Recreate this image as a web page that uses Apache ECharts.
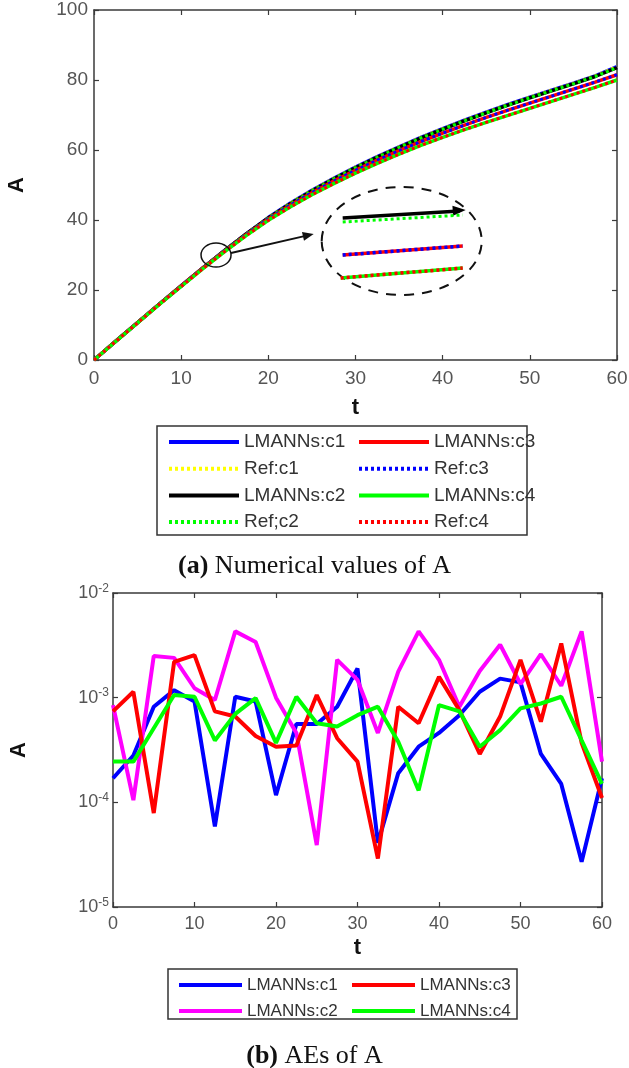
<!DOCTYPE html>
<html><head><meta charset="utf-8">
<script src="https://cdn.jsdelivr.net/npm/echarts@6/dist/echarts.min.js"></script>
<style>html,body{margin:0;padding:0;background:#fff}#c{width:629px;height:1068px}</style>
</head><body><div id="c"></div>
<script>
// ---------- data ----------
const tVals = [0,2.5,5,7.5,10,12.5,15,17.5,20,22.5,25,27.5,30,32.5,35,37.5,40,42.5,45,47.5,50,52.5,55,57.5,60];
const xTicks = [0,10,20,30,40,50,60];
const yTicksTop = [0,20,40,60,80,100];

// (a) numerical values of A
const lmannsC1 = [0,5.4,10.7,16.0,21.2,26.3,31.3,36.1,40.7,44.8,48.5,51.9,55.1,58.1,60.9,63.6,66.1,68.5,70.8,73.0,75.1,77.1,79.1,81.2,83.8];
const refC1    = [0,5.4,10.7,16.0,21.2,26.3,31.3,36.1,40.7,44.8,48.5,51.9,55.1,58.1,60.9,63.6,66.1,68.5,70.8,73.0,75.1,77.1,79.1,81.2,83.8];
const lmannsC2 = [0,5.4,10.7,16.0,21.2,26.3,31.3,36.1,40.6,44.6,48.3,51.7,54.9,57.9,60.7,63.4,65.9,68.3,70.6,72.8,74.9,76.9,78.9,81.0,83.5];
const refC2    = [0,5.4,10.7,16.0,21.2,26.3,31.3,36.1,40.6,44.6,48.3,51.7,54.9,57.9,60.7,63.4,65.9,68.3,70.6,72.8,74.9,76.9,78.9,81.0,83.5];
const lmannsC3 = [0,5.4,10.7,16.0,21.2,26.3,31.2,35.9,40.3,44.2,47.8,51.1,54.2,57.1,59.8,62.4,64.8,67.1,69.3,71.4,73.4,75.4,77.4,79.4,81.5];
const refC3    = [0,5.4,10.7,16.0,21.2,26.3,31.2,35.9,40.3,44.2,47.8,51.1,54.2,57.1,59.8,62.4,64.8,67.1,69.3,71.4,73.4,75.4,77.4,79.4,81.5];
const lmannsC4 = [0,5.3,10.6,15.9,21.0,26.1,31.0,35.6,39.9,43.7,47.2,50.4,53.4,56.2,58.8,61.3,63.6,65.8,67.9,69.9,71.9,73.9,75.9,77.9,80.0];
const refC4    = [0,5.3,10.6,15.9,21.0,26.1,31.0,35.6,39.9,43.7,47.2,50.4,53.4,56.2,58.8,61.3,63.6,65.8,67.9,69.9,71.9,73.9,75.9,77.9,80.0];

// (b) absolute errors of A
const aeC1 = [1.7e-4,2.8e-4,8.2e-4,1.18e-3,9.2e-4,5.9e-5,1.02e-3,9.2e-4,1.17e-4,5.6e-4,5.6e-4,8.2e-4,1.9e-3,4.1e-5,1.9e-4,3.4e-4,4.6e-4,6.8e-4,1.14e-3,1.52e-3,1.4e-3,2.9e-4,1.5e-4,2.7e-5,1.7e-4];
const aeC2 = [8.5e-4,1.05e-4,2.5e-3,2.4e-3,1.23e-3,9.5e-4,4.3e-3,3.4e-3,1.0e-3,4.6e-4,3.9e-5,2.3e-3,1.48e-3,4.6e-4,1.77e-3,4.3e-3,2.3e-3,8.2e-4,1.8e-3,3.2e-3,1.35e-3,2.6e-3,1.3e-3,4.3e-3,2.45e-4];
const aeC3 = [7.4e-4,1.14e-3,7.9e-5,2.2e-3,2.55e-3,7.4e-4,6.6e-4,4.3e-4,3.4e-4,3.5e-4,1.06e-3,4.1e-4,2.45e-4,2.9e-5,8.2e-4,5.7e-4,1.58e-3,7.6e-4,2.9e-4,6.6e-4,2.3e-3,5.9e-4,3.3e-3,3.7e-4,1.1e-4];
const aeC4 = [2.45e-4,2.45e-4,5.1e-4,1.06e-3,1.02e-3,3.9e-4,7.0e-4,9.9e-4,3.7e-4,1.02e-3,5.7e-4,5.3e-4,6.8e-4,8.2e-4,3.8e-4,1.3e-4,8.5e-4,7.4e-4,3.4e-4,4.9e-4,7.9e-4,8.8e-4,1.02e-3,3.9e-4,1.5e-4];

const legendTopCol1 = ['LMANNs:c1','Ref:c1','LMANNs:c2','Ref;c2'];
const legendTopCol2 = ['LMANNs:c3','Ref:c3','LMANNs:c4','Ref:c4'];
const legendBotCol1 = ['LMANNs:c1','LMANNs:c2'];
const legendBotCol2 = ['LMANNs:c3','LMANNs:c4'];
const captionA = ['(a)', ' Numerical values of A'];
const captionB = ['(b)', ' AEs of A'];

// ---------- helpers ----------
const pair = arr => tVals.map((t,i)=>[t,arr[i]]);
const SANS = 'Liberation Sans';
const SERIF = 'Liberation Serif';
const axisCol = '#3a3a3a';
const labelCol = '#555';

function boxAxis(type, grid, pos, extra){
  return Object.assign({
    type: type, gridIndex: grid, position: pos,
    axisLine: {show:true, onZero:false, lineStyle:{color:axisCol, width:1.5}},
    axisTick: {show:true, inside:true, length:5, lineStyle:{color:axisCol, width:1.2}},
    axisLabel: {show:false},
    splitLine: {show:false}
  }, extra||{});
}

const solid = (name,color,data,xi,yi,w,z)=>({name, type:'line', data:pair(data), xAxisIndex:xi, yAxisIndex:yi,
  symbol:'none', z:z, lineStyle:{color, width:w, type:'solid'}, itemStyle:{color}, animation:false});
const dotted = (name,color,data,xi,yi,z)=>({name, type:'line', data:pair(data), xAxisIndex:xi, yAxisIndex:yi,
  symbol:'none', z:z, lineStyle:{color, width:3, type:[3,3]}, itemStyle:{color}, animation:false});

const chart = echarts.init(document.getElementById('c'), null, {renderer:'canvas'});

const topLabel = {show:true, fontFamily:SANS, fontSize:19, color:labelCol};
const supRich = {sup:{fontSize:12, fontFamily:SANS, color:labelCol, padding:[0,0,9,0]}};

const legendBase = {orient:'vertical', padding:0, selectedMode:false, itemStyle:{opacity:0, borderWidth:0}};
const option = {
  backgroundColor:'#fff',
  animation:false,
  grid:[
    {left:94, right:12, top:10, bottom:708, outerBoundsMode:'none', containLabel:false},
    {left:113, right:27, top:593, bottom:161, outerBoundsMode:'none', containLabel:false}
  ],
  xAxis:[
    boxAxis('value',0,'bottom',{min:0,max:60,interval:10,
      axisLabel:Object.assign({margin:9},topLabel),
      name:'t', nameLocation:'middle', nameGap:37,
      nameTextStyle:{fontFamily:SANS, fontSize:22, fontWeight:'bold', color:'#111'}}),
    boxAxis('value',0,'top',{min:0,max:60,interval:10}),
    boxAxis('value',1,'bottom',{min:0,max:60,interval:10,
      axisLabel:{show:true, margin:8, fontFamily:SANS, fontSize:18, color:labelCol},
      name:'t', nameLocation:'middle', nameGap:30,
      nameTextStyle:{fontFamily:SANS, fontSize:22, fontWeight:'bold', color:'#111'}}),
    boxAxis('value',1,'top',{min:0,max:60,interval:10})
  ],
  yAxis:[
    boxAxis('value',0,'left',{min:0,max:100,interval:20,
      axisLabel:Object.assign({margin:6},topLabel),
      name:'A', nameLocation:'middle', nameGap:66,
      nameTextStyle:{fontFamily:SANS, fontSize:22, fontWeight:'bold', color:'#111'}}),
    boxAxis('value',0,'right',{min:0,max:100,interval:20}),
    boxAxis('log',1,'left',{min:1e-5,max:1e-2,logBase:10,
      axisLabel:{show:true, margin:4, fontFamily:SANS, fontSize:18, color:labelCol,
        formatter:v=>'10{sup|'+Math.round(Math.log10(v))+'}', rich:supRich},
      name:'A', nameLocation:'middle', nameGap:83,
      nameTextStyle:{fontFamily:SANS, fontSize:22, fontWeight:'bold', color:'#111'}}),
    boxAxis('log',1,'right',{min:1e-5,max:1e-2,logBase:10})
  ],
  legend:[
    Object.assign({}, legendBase, {data:legendTopCol1, left:167, top:432, itemWidth:70, itemHeight:20, itemGap:6.7,
     lineStyle:{width:4}, textStyle:{fontFamily:SANS, fontSize:19, color:'#333', lineHeight:20}}),
    Object.assign({}, legendBase, {data:legendTopCol2, left:357, top:432, itemWidth:70, itemHeight:20, itemGap:6.7,
     lineStyle:{width:4}, textStyle:{fontFamily:SANS, fontSize:19, color:'#333', lineHeight:20}}),
    Object.assign({}, legendBase, {data:legendBotCol1.map(n=>'AE '+n), formatter:n=>n.slice(3), left:177, top:976, itemWidth:63, itemHeight:18, itemGap:8,
     lineStyle:{width:4}, textStyle:{fontFamily:SANS, fontSize:17, color:'#333', lineHeight:18}}),
    Object.assign({}, legendBase, {data:legendBotCol2.map(n=>'AE '+n), formatter:n=>n.slice(3), left:350, top:976, itemWidth:63, itemHeight:18, itemGap:8,
     lineStyle:{width:4}, textStyle:{fontFamily:SANS, fontSize:17, color:'#333', lineHeight:18}})
  ],
  title:[
    {text:'{b|'+captionA[0]+'}{n|'+captionA[1]+'}', left:'center', top:548,
     textStyle:{rich:{b:{fontFamily:SERIF,fontSize:26,fontWeight:'bold',color:'#111'},n:{fontFamily:SERIF,fontSize:26,fontWeight:'normal',color:'#111'}}}},
    {text:'{b|'+captionB[0]+'}{n|'+captionB[1]+'}', left:'center', top:1038,
     textStyle:{rich:{b:{fontFamily:SERIF,fontSize:26,fontWeight:'bold',color:'#111'},n:{fontFamily:SERIF,fontSize:26,fontWeight:'normal',color:'#111'}}}}
  ],
  series:[
    solid('LMANNs:c1','#0000ff',lmannsC1,0,0,3.5,2),
    dotted('Ref:c1','#ffff00',refC1,0,0,3),
    solid('LMANNs:c2','#000000',lmannsC2,0,0,3.5,4),
    dotted('Ref;c2','#00ff00',refC2,0,0,5),
    solid('LMANNs:c3','#ff0000',lmannsC3,0,0,3.5,6),
    dotted('Ref:c3','#0000ff',refC3,0,0,7),
    solid('LMANNs:c4','#00ff00',lmannsC4,0,0,3.5,8),
    dotted('Ref:c4','#ff0000',refC4,0,0,9),
    solid('AE LMANNs:c1','#0000ff',aeC1,2,2,4,2),
    solid('AE LMANNs:c2','#ff00ff',aeC2,2,2,4,3),
    solid('AE LMANNs:c3','#ff0000',aeC3,2,2,4,4),
    solid('AE LMANNs:c4','#00ff00',aeC4,2,2,4,5)
  ]
};
chart.setOption(option);

// ---------- annotations (zoom inset) ----------
function arrowHead(x1,y1,x2,y2,len,half){
  const dx=x2-x1, dy=y2-y1, L=Math.hypot(dx,dy), ux=dx/L, uy=dy/L, nx=-uy, ny=ux;
  const bx=x2-ux*len, by=y2-uy*len;
  return [[x2,y2],[bx+nx*half,by+ny*half],[bx-nx*half,by-ny*half]];
}
const zc = chart.convertToPixel({xAxisIndex:0,yAxisIndex:0},[14,30]);
const ic = chart.convertToPixel({xAxisIndex:0,yAxisIndex:0},[35.3,34]);
const cx=ic[0], cy=ic[1];
const g = [];
g.push({type:'ellipse', shape:{cx:zc[0], cy:zc[1], rx:15, ry:12}, style:{fill:null, stroke:'#111', lineWidth:1.5}, z:50});
const a1=[zc[0]+15, zc[1]-2], a2=[cx-88, cy-7];
g.push({type:'line', shape:{x1:a1[0],y1:a1[1],x2:a2[0]-6,y2:a2[1]+1.4}, style:{stroke:'#111', lineWidth:2}, z:50});
g.push({type:'polygon', shape:{points:arrowHead(a1[0],a1[1],a2[0],a2[1],11,4.5)}, style:{fill:'#111'}, z:50});
g.push({type:'ellipse', shape:{cx:cx, cy:cy, rx:80, ry:54}, style:{fill:'#fff', stroke:'#111', lineWidth:2, lineDash:[10,8]}, z:50});
function seg(x1,y1,x2,y2,color,dash,w,z){
  g.push({type:'line', shape:{x1:cx+x1,y1:cy+y1,x2:cx+x2,y2:cy+y2}, style:{stroke:color, lineWidth:w, lineDash:dash}, z:z});
}
// top pair: black solid (with arrow) + green dotted
seg(-59,-23,58,-30,'#000',null,3.5,51);
g.push({type:'polygon', shape:{points:arrowHead(cx-59,cy-23,cx+64,cy-31,13,5)}, style:{fill:'#000'}, z:51});
seg(-59,-19,61,-26,'#00ff00',[3,3],3,52);
// middle: red solid + blue dotted
seg(-59,14,61,5,'#ff0000',null,3.5,51);
seg(-59,14,61,5,'#0000ff',[3,3],3.5,52);
// bottom: green solid + red dotted
seg(-61,37,61,27,'#00ff00',null,3.5,51);
seg(-61,37,61,27,'#ff0000',[3,3],3.5,52);
// legend boxes
g.push({type:'rect', shape:{x:157,y:426,width:370,height:109}, style:{fill:null, stroke:'#333', lineWidth:1.5}, z:40});
g.push({type:'rect', shape:{x:168,y:969,width:349,height:50}, style:{fill:null, stroke:'#333', lineWidth:1.5}, z:40});
chart.setOption({graphic:g});
</script></body></html>
